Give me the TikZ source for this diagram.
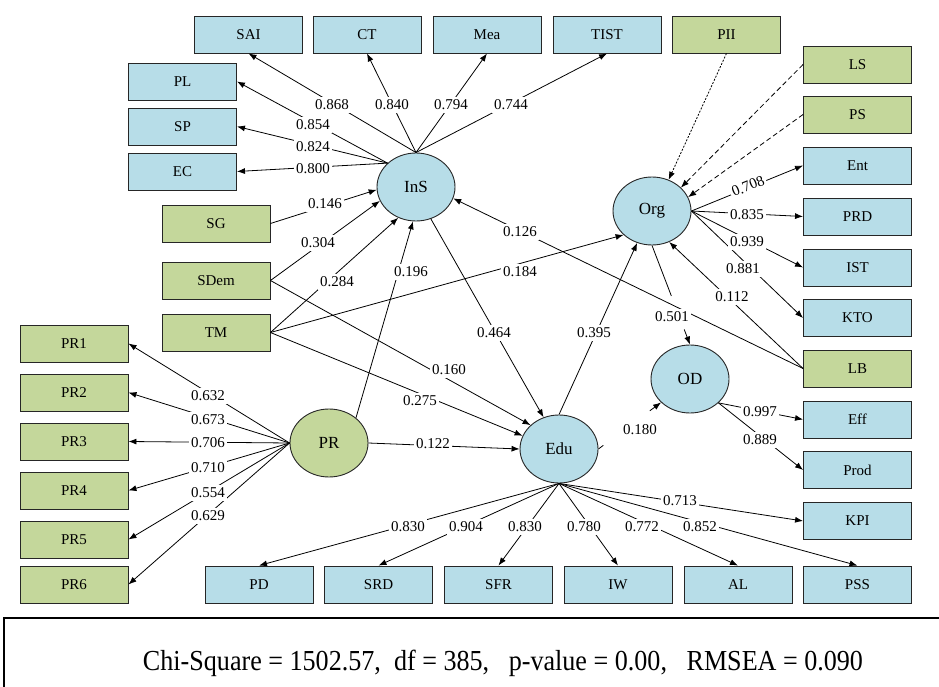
\documentclass[tikz,border=0pt]{standalone}
\usepackage{fontspec}
\setmainfont{Liberation Serif}
\usetikzlibrary{shapes.geometric,arrows.meta}

\definecolor{indblue}{RGB}{183,221,232}
\definecolor{indgreen}{RGB}{196,215,155}

\tikzset{
  ind/.style={draw=black!85, line width=0.9pt, fill=indblue, minimum width=108pt,
    minimum height=37pt, inner sep=0pt, font=\fontsize{15}{15}\selectfont},
  indg/.style={ind, fill=indgreen},
  lat/.style={draw=black!85, line width=0.9pt, ellipse, fill=indblue, minimum width=78pt,
    minimum height=68pt, inner sep=0pt, font=\fontsize{17}{17}\selectfont},
  latg/.style={lat, fill=indgreen},
  arr/.style={-{Latex[length=8pt,width=6pt]}, line width=0.8pt},
  dsharr/.style={arr, dash pattern=on 5pt off 3pt},
  dotarr/.style={arr, dash pattern=on 2pt off 1.5pt},
  wt/.style={fill=white, inner xsep=2pt, inner ysep=2.5pt, font=\fontsize{15}{15}\selectfont}
}

\begin{document}
\begin{tikzpicture}[x=1pt,y=-1pt]
  \useasboundingbox (0,0) rectangle (939,687);
  \clip (0,0) rectangle (939,687);

  % latent variables
  \node[lat] (InS) at (416,187) {InS};
  \node[lat] (Org) at (652,211) {Org};
  \node[lat] (OD) at (690,379) {OD};
  \node[lat] (Edu) at (559,449) {Edu};
  \node[latg] (PR) at (329,443) {PR};

  % indicators
  \foreach \n/\x in {SAI/248.5,CT/367,Mea/487,TIST/607}
    \node[ind] (\n) at (\x,34.5) {\n};
  \node[indg] (PII) at (726.5,34.5) {PII};
  \foreach \n/\y in {PL/81.5,SP/126.5,EC/171.5}
    \node[ind] (\n) at (182.5,\y) {\n};
  \foreach \n/\y in {SG/223.5,SDem/280.5,TM/332.5}
    \node[indg] (\n) at (216,\y) {\n};
  \foreach \n/\y in {PR1/343.5,PR2/392.5,PR3/441.5,PR4/490.5,PR5/539.5,PR6/584.5}
    \node[indg] (\n) at (74,\y) {\n};
  \foreach \n/\y in {LS/64.5,PS/114.5,LB/368.5}
    \node[indg] (\n) at (857.5,\y) {\n};
  \foreach \n/\y in {Ent/165.5,PRD/216.5,IST/267.5,KTO/318,Eff/419.5,Prod/470,KPI/521}
    \node[ind] (\n) at (857.5,\y) {\n};
  \foreach \n/\x in {PD/259,SRD/378.5,SFR/498.5,IW/618,AL/738,PSS/857.5}
    \node[ind] (\n) at (\x,584.5) {\n};

  % loadings
  \foreach \n in {SAI,CT,Mea,TIST}
    \draw[arr] (InS.north) -- (\n.south);
  \foreach \n in {PL,SP,EC}
    \draw[arr] (InS.140) -- (\n.east);
  \foreach \n in {Ent,PRD,IST,KTO}
    \draw[arr] (Org.east) -- (\n.west);
  \foreach \n in {Eff,Prod}
    \draw[arr] (OD.320) -- (\n.west);
  \foreach \n in {PD,SRD,SFR,IW,AL,PSS}
    \draw[arr] (Edu.south) -- (\n.north);
  \draw[arr] (Edu.south) -- (KPI.west);
  \foreach \n in {PR1,PR2,PR3,PR4,PR5,PR6}
    \draw[arr] (PR.west) -- (\n.east);
  \draw[dotarr] (PII.south) -- (Org.62);
  \draw[dsharr] (LS.west) -- (Org.39);
  \draw[dsharr] (PS.west) -- (Org.21);

  % structural paths
  \draw[arr] (SG.east) -- (InS.184);
  \draw[arr] (SDem.east) -- (InS.201);
  \draw[arr] (TM.east) -- (InS.240);
  \draw[arr] (PR.43) -- (InS.265);
  \draw[arr] (LB.west) -- (InS.343);
  \draw[arr] (InS.295) -- (Edu.116);
  \draw[arr] (SDem.east) -- (Edu.140);
  \draw[arr] (TM.east) -- (Edu.160);
  \draw[arr] (PR.east) -- (Edu.west);
  \draw[arr] (TM.east) -- (Org.220);
  \draw[arr] (Edu.north) -- (Org.245);
  \draw[arr] (LB.west) -- (Org.299);
  \draw[arr, dash pattern=on 54pt off 36pt on 20pt] (Org.south) -- (OD.north);
  \draw[arr, dash pattern=on 6pt off 58pt on 20pt] (Edu.east) -- (OD.219);

  % coefficients
  \foreach \n/\x/\y/\v in {SAI/332/105/0.868, CT/392/105/0.840, Mea/451/105/0.794,
      TIST/511/105/0.744, PL/313/125/0.854, SP/313/147/0.824, EC/313/169/0.800,
      SG/325/204/0.146, SDemI/318/243/0.304, TMI/337/282/0.284, PRI/411/272/0.196,
      LBI/520/232/0.126, TMO/520/272/0.184, InSE/494/333/0.464, SDemE/449/370/0.160,
      TME/420/401/0.275, PRE/433/444/0.122, EduO/594/333/0.395, OrgOD/672/317/0.501,
      LBO/732/297/0.112, EduOD/640/430/0.180, PRD/747/215/0.835, IST/747/242/0.939,
      KTO/743/269/0.881, Eff/760/412/0.997, Prod/760/440/0.889, KPI/680/501/0.713,
      PD/408/527/0.830, SRD/466/527/0.904, SFR/525/527/0.830, IW/584/527/0.780,
      AL/642/527/0.772, PSS/700/527/0.852, PR1/208/396/0.632, PR2/208/420/0.673,
      PR3/208/443/0.706, PR4/208/468/0.710, PR5/208/493/0.554, PR6/208/516/0.629}
    \node[wt] (w\n) at (\x,\y) {\v};
  \node[wt, rotate=22, inner ysep=1pt] (wEnt) at (748,186) {0.708};

  % fit indices
  \draw[line width=1.5pt] (950,618) -- (4,618) -- (4,700);
  \node (fit) at (503,663) {\fontsize{29}{29}\selectfont\scalebox{0.9}[1]{Chi-Square = 1502.57,\ \ df = 385,\ \ \ p-value = 0.00,\ \ \ RMSEA = 0.090}};
\end{tikzpicture}
\end{document}
